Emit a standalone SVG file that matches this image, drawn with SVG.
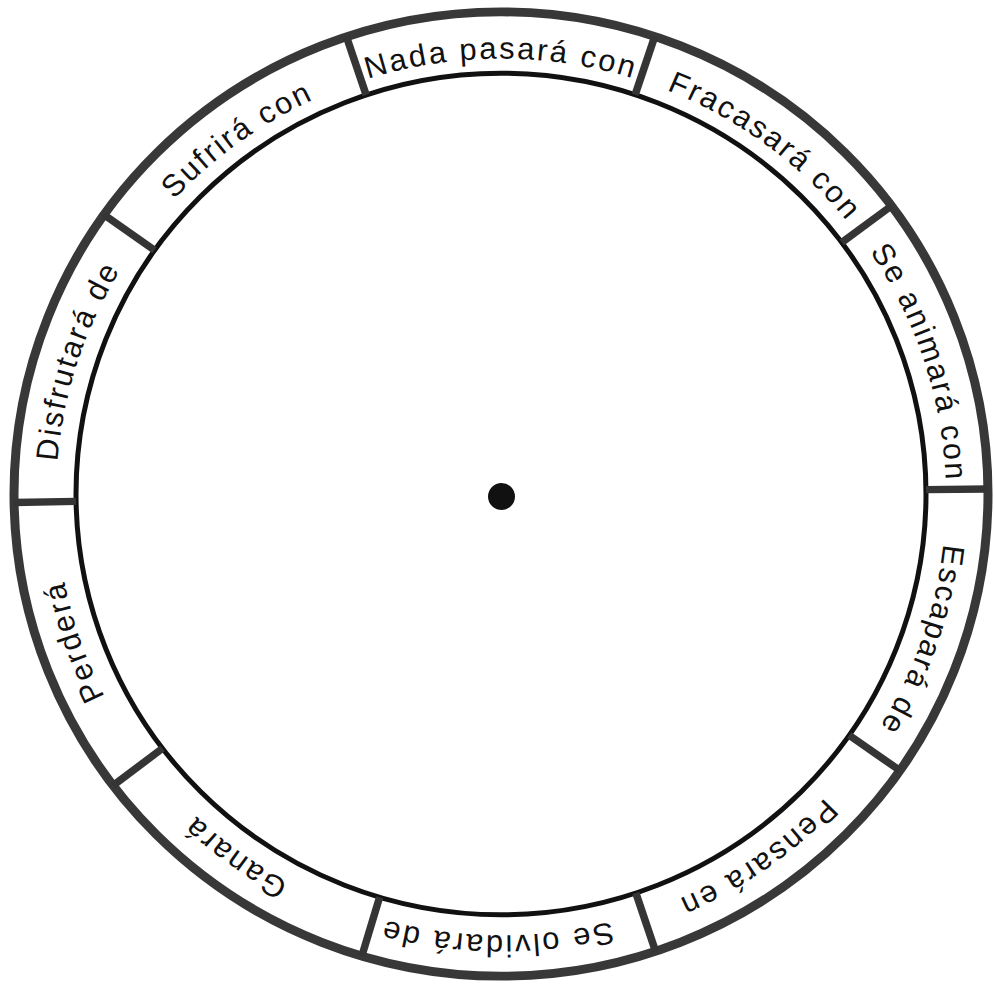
<svg xmlns="http://www.w3.org/2000/svg" width="994" height="990" viewBox="0 0 994 990">
<defs>
<style>
.outer{fill:none;stroke:#383838;stroke-width:9}
.inner{fill:none;stroke:#111;stroke-width:5}
.div{stroke:#353535;stroke-width:7.5}
.lbl{font-family:"Liberation Sans",Arial,sans-serif;font-size:31px;letter-spacing:2.3px;fill:#111;text-anchor:middle}
</style>
<path id="ring" d="M0,445 A445,445 0 1,1 0,-445 A445,445 0 1,1 0,445"/>
</defs>
<rect width="994" height="990" fill="#fff"/>
<g id="wheel" transform="translate(501,494) scale(1,0.99)">
<circle class="outer" r="487"/>
<circle class="inner" r="425"/>
<g id="dividers">
<line class="div" x1="425" y1="0" x2="487" y2="0" transform="rotate(-108.5)"/>
<line class="div" x1="425" y1="0" x2="487" y2="0" transform="rotate(-71.6)"/>
<line class="div" x1="425" y1="0" x2="487" y2="0" transform="rotate(-36.7)"/>
<line class="div" x1="425" y1="0" x2="487" y2="0" transform="rotate(-0.6)"/>
<line class="div" x1="425" y1="0" x2="487" y2="0" transform="rotate(35)"/>
<line class="div" x1="425" y1="0" x2="487" y2="0" transform="rotate(71.5)"/>
<line class="div" x1="425" y1="0" x2="487" y2="0" transform="rotate(106.6)"/>
<line class="div" x1="425" y1="0" x2="487" y2="0" transform="rotate(142.8)"/>
<line class="div" x1="425" y1="0" x2="487" y2="0" transform="rotate(179)"/>
<line class="div" x1="425" y1="0" x2="487" y2="0" transform="rotate(-144.6)"/>
</g>
</g>
<g id="labels" transform="translate(501,497) scale(1,0.985)">
<g id="seg-nada" transform="rotate(0)"><text class="lbl"><textPath href="#ring" startOffset="50%">Nada pasará con</textPath></text></g>
<g id="seg-fracasara" transform="rotate(36.5)"><text class="lbl"><textPath href="#ring" startOffset="50%">Fracasará con</textPath></text></g>
<g id="seg-animara" transform="rotate(72)"><text class="lbl"><textPath href="#ring" startOffset="50%">Se animará con</textPath></text></g>
<g id="seg-escapara" transform="rotate(109)"><text class="lbl"><textPath href="#ring" startOffset="50%">Escapará de</textPath></text></g>
<g id="seg-pensara" transform="rotate(145)"><text class="lbl"><textPath href="#ring" startOffset="50%">Pensará en</textPath></text></g>
<g id="seg-olvidara" transform="rotate(180.5)"><text class="lbl"><textPath href="#ring" startOffset="50%">Se olvidará de</textPath></text></g>
<g id="seg-ganara" transform="rotate(216)"><text class="lbl"><textPath href="#ring" startOffset="50%">Ganará</textPath></text></g>
<g id="seg-perdera" transform="rotate(251)"><text class="lbl"><textPath href="#ring" startOffset="50%">Perderá</textPath></text></g>
<g id="seg-disfrutara" transform="rotate(288)"><text class="lbl"><textPath href="#ring" startOffset="50%">Disfrutará de</textPath></text></g>
<g id="seg-sufrira" transform="rotate(-36)"><text class="lbl"><textPath href="#ring" startOffset="50%">Sufrirá con</textPath></text></g>
</g>
<circle id="center-dot" cx="501.5" cy="496.5" r="13.5" fill="#111"/>
</svg>
